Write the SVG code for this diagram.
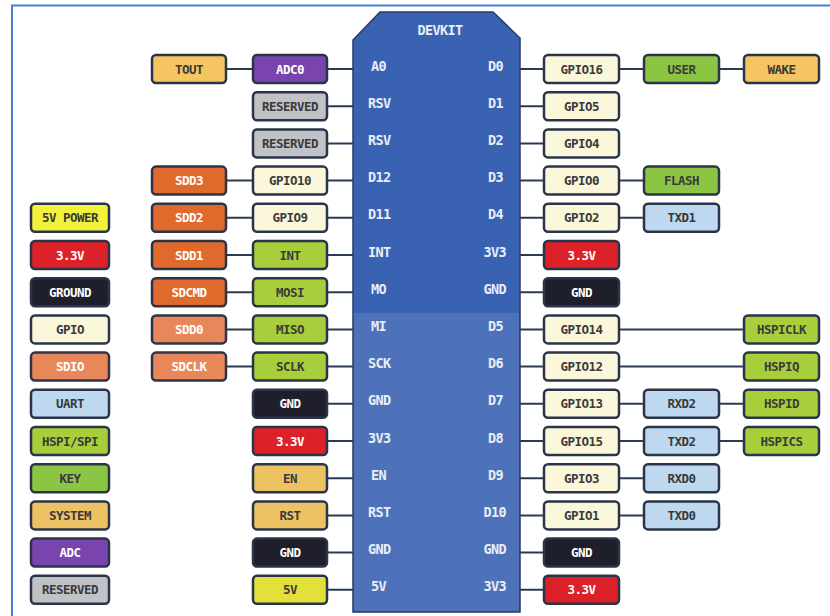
<svg xmlns="http://www.w3.org/2000/svg" width="830" height="616" viewBox="0 0 830 616">
<style>
.bx{stroke:#2B3448;stroke-width:2.5}
.t{font-family:"DejaVu Sans Mono","Liberation Mono",monospace;font-weight:bold;font-size:12.5px;text-anchor:middle;letter-spacing:-0.5px;fill:#3a3a3a}
.w{fill:#ffffff}
.pl{font-family:"DejaVu Sans Mono","Liberation Mono",monospace;font-weight:bold;font-size:13.5px;fill:#E8EEF8;letter-spacing:-0.6px}
.r{text-anchor:end}
.c{stroke:#2B3A55;stroke-width:2;fill:none}
.tout{fill:#F4C561}.adc{fill:#7A44AE}.res{fill:#C0C2C6}.sd{fill:#E0692C}.sdl{fill:#E8885A}
.gp{fill:#FAF7DA}.hs{fill:#A8CF3B}.key{fill:#8CC443}.ua{fill:#BDD8EF}.v33{fill:#DC2128}
.gnd{fill:#1F1F2B}.v5p{fill:#F2F23C}.v5{fill:#E4E03A}.sys{fill:#ECC263}
</style>
<rect width="830" height="616" fill="#ffffff"/>
<path d="M12 616 V5.5 H830" fill="none" stroke="#4A7FD8" stroke-width="2"/>

<g id="connectors">
<path class="c" d="M226 69H253M327 69H353M327 106.2H353M327 143.4H353M226 180.6H253M327 180.6H353M226 217.8H253M327 217.8H353M226 255H253M327 255H353M226 292.2H253M327 292.2H353M226 329.4H253M327 329.4H353M226 366.6H253M327 366.6H353M327 403.8H353M327 441H353M327 478.2H353M327 515.4H353M327 552.6H353M327 589.8H353"/>
<path class="c" d="M520 69H544M619 69H644M719 69H744M520 106.2H544M520 143.4H544M520 180.6H544M619 180.6H644M520 217.8H544M619 217.8H644M520 255H544M520 292.2H544M520 329.4H544M619 329.4H744M520 366.6H544M619 366.6H744M520 403.8H544M619 403.8H644M719 403.8H744M520 441H544M619 441H644M719 441H744M520 478.2H544M619 478.2H644M520 515.4H544M619 515.4H644M520 552.6H544M520 589.8H544"/>
</g>

<g id="board">
<polygon points="353,40 380,12 493,12 520,38 520,612 353,612" fill="#3A62B3" stroke="#2B3A66" stroke-width="1.5"/>
<rect x="354" y="313" width="165" height="298" fill="#ffffff" opacity="0.1"/>
<text class="pl" x="440" y="35" text-anchor="middle">DEVKIT</text>
<text class="pl" x="371" y="70.5">A0</text>
<text class="pl" x="368" y="107.7">RSV</text>
<text class="pl" x="368" y="144.9">RSV</text>
<text class="pl" x="368" y="182.1">D12</text>
<text class="pl" x="368" y="219.3">D11</text>
<text class="pl" x="368" y="256.5">INT</text>
<text class="pl" x="371" y="293.7">MO</text>
<text class="pl" x="371" y="330.9">MI</text>
<text class="pl" x="368" y="368.1">SCK</text>
<text class="pl" x="368" y="405.3">GND</text>
<text class="pl" x="368" y="442.5">3V3</text>
<text class="pl" x="371" y="479.7">EN</text>
<text class="pl" x="368" y="516.9">RST</text>
<text class="pl" x="368" y="554.1">GND</text>
<text class="pl" x="371" y="591.3">5V</text>
<text class="pl r" x="503" y="70.5">D0</text>
<text class="pl r" x="503" y="107.7">D1</text>
<text class="pl r" x="503" y="144.9">D2</text>
<text class="pl r" x="503" y="182.1">D3</text>
<text class="pl r" x="503" y="219.3">D4</text>
<text class="pl r" x="506" y="256.5">3V3</text>
<text class="pl r" x="506" y="293.7">GND</text>
<text class="pl r" x="503" y="330.9">D5</text>
<text class="pl r" x="503" y="368.1">D6</text>
<text class="pl r" x="503" y="405.3">D7</text>
<text class="pl r" x="503" y="442.5">D8</text>
<text class="pl r" x="503" y="479.7">D9</text>
<text class="pl r" x="506" y="516.9">D10</text>
<text class="pl r" x="506" y="554.1">GND</text>
<text class="pl r" x="506" y="591.3">3V3</text>
</g>

<!-- legend -->
<g id="leg-5vpower"><rect class="bx v5p" x="31" y="203.8" width="78" height="28" rx="4"/><text class="t" x="70" y="222.3">5V POWER</text></g>
<g id="leg-33v"><rect class="bx v33" x="31" y="241" width="78" height="28" rx="4"/><text class="t w" x="70" y="259.5">3.3V</text></g>
<g id="leg-ground"><rect class="bx gnd" x="31" y="278.2" width="78" height="28" rx="4"/><text class="t w" x="70" y="296.7">GROUND</text></g>
<g id="leg-gpio"><rect class="bx gp" x="31" y="315.4" width="78" height="28" rx="4"/><text class="t" x="70" y="333.9">GPIO</text></g>
<g id="leg-sdio"><rect class="bx sdl" x="31" y="352.6" width="78" height="28" rx="4"/><text class="t w" x="70" y="371.1">SDIO</text></g>
<g id="leg-uart"><rect class="bx ua" x="31" y="389.8" width="78" height="28" rx="4"/><text class="t" x="70" y="408.3">UART</text></g>
<g id="leg-hspi"><rect class="bx hs" x="31" y="427" width="78" height="28" rx="4"/><text class="t" x="70" y="445.5">HSPI/SPI</text></g>
<g id="leg-key"><rect class="bx key" x="31" y="464.2" width="78" height="28" rx="4"/><text class="t" x="70" y="482.7">KEY</text></g>
<g id="leg-system"><rect class="bx sys" x="31" y="501.4" width="78" height="28" rx="4"/><text class="t" x="70" y="519.9">SYSTEM</text></g>
<g id="leg-adc"><rect class="bx adc" x="31" y="538.6" width="78" height="28" rx="4"/><text class="t w" x="70" y="557.1">ADC</text></g>
<g id="leg-reserved"><rect class="bx res" x="31" y="575.8" width="78" height="28" rx="4"/><text class="t" x="70" y="594.3">RESERVED</text></g>

<!-- left column 1 -->
<g id="tout"><rect class="bx tout" x="152" y="55" width="74" height="28" rx="4"/><text class="t" x="189" y="73.5">TOUT</text></g>
<g id="sdd3"><rect class="bx sd" x="152" y="166.6" width="74" height="28" rx="4"/><text class="t w" x="189" y="185.1">SDD3</text></g>
<g id="sdd2"><rect class="bx sd" x="152" y="203.8" width="74" height="28" rx="4"/><text class="t w" x="189" y="222.3">SDD2</text></g>
<g id="sdd1"><rect class="bx sd" x="152" y="241" width="74" height="28" rx="4"/><text class="t w" x="189" y="259.5">SDD1</text></g>
<g id="sdcmd"><rect class="bx sd" x="152" y="278.2" width="74" height="28" rx="4"/><text class="t w" x="189" y="296.7">SDCMD</text></g>
<g id="sdd0"><rect class="bx sdl" x="152" y="315.4" width="74" height="28" rx="4"/><text class="t w" x="189" y="333.9">SDD0</text></g>
<g id="sdclk"><rect class="bx sdl" x="152" y="352.6" width="74" height="28" rx="4"/><text class="t w" x="189" y="371.1">SDCLK</text></g>

<!-- left column 2 -->
<g id="adc0"><rect class="bx adc" x="253" y="55" width="74" height="28" rx="4"/><text class="t w" x="290" y="73.5">ADC0</text></g>
<g id="reserved1"><rect class="bx res" x="253" y="92.2" width="74" height="28" rx="4"/><text class="t" x="290" y="110.7">RESERVED</text></g>
<g id="reserved2"><rect class="bx res" x="253" y="129.4" width="74" height="28" rx="4"/><text class="t" x="290" y="147.9">RESERVED</text></g>
<g id="gpio10"><rect class="bx gp" x="253" y="166.6" width="74" height="28" rx="4"/><text class="t" x="290" y="185.1">GPIO10</text></g>
<g id="gpio9"><rect class="bx gp" x="253" y="203.8" width="74" height="28" rx="4"/><text class="t" x="290" y="222.3">GPIO9</text></g>
<g id="int"><rect class="bx hs" x="253" y="241" width="74" height="28" rx="4"/><text class="t" x="290" y="259.5">INT</text></g>
<g id="mosi"><rect class="bx hs" x="253" y="278.2" width="74" height="28" rx="4"/><text class="t" x="290" y="296.7">MOSI</text></g>
<g id="miso"><rect class="bx hs" x="253" y="315.4" width="74" height="28" rx="4"/><text class="t" x="290" y="333.9">MISO</text></g>
<g id="sclk"><rect class="bx hs" x="253" y="352.6" width="74" height="28" rx="4"/><text class="t" x="290" y="371.1">SCLK</text></g>
<g id="gnd-l1"><rect class="bx gnd" x="253" y="389.8" width="74" height="28" rx="4"/><text class="t w" x="290" y="408.3">GND</text></g>
<g id="v33-l"><rect class="bx v33" x="253" y="427" width="74" height="28" rx="4"/><text class="t w" x="290" y="445.5">3.3V</text></g>
<g id="en"><rect class="bx sys" x="253" y="464.2" width="74" height="28" rx="4"/><text class="t" x="290" y="482.7">EN</text></g>
<g id="rst"><rect class="bx sys" x="253" y="501.4" width="74" height="28" rx="4"/><text class="t" x="290" y="519.9">RST</text></g>
<g id="gnd-l2"><rect class="bx gnd" x="253" y="538.6" width="74" height="28" rx="4"/><text class="t w" x="290" y="557.1">GND</text></g>
<g id="v5"><rect class="bx v5" x="253" y="575.8" width="74" height="28" rx="4"/><text class="t" x="290" y="594.3">5V</text></g>

<!-- right column 1 -->
<g id="gpio16"><rect class="bx gp" x="544" y="55" width="75" height="28" rx="4"/><text class="t" x="581.5" y="73.5">GPIO16</text></g>
<g id="gpio5"><rect class="bx gp" x="544" y="92.2" width="75" height="28" rx="4"/><text class="t" x="581.5" y="110.7">GPIO5</text></g>
<g id="gpio4"><rect class="bx gp" x="544" y="129.4" width="75" height="28" rx="4"/><text class="t" x="581.5" y="147.9">GPIO4</text></g>
<g id="gpio0"><rect class="bx gp" x="544" y="166.6" width="75" height="28" rx="4"/><text class="t" x="581.5" y="185.1">GPIO0</text></g>
<g id="gpio2"><rect class="bx gp" x="544" y="203.8" width="75" height="28" rx="4"/><text class="t" x="581.5" y="222.3">GPIO2</text></g>
<g id="v33-r1"><rect class="bx v33" x="544" y="241" width="75" height="28" rx="4"/><text class="t w" x="581.5" y="259.5">3.3V</text></g>
<g id="gnd-r1"><rect class="bx gnd" x="544" y="278.2" width="75" height="28" rx="4"/><text class="t w" x="581.5" y="296.7">GND</text></g>
<g id="gpio14"><rect class="bx gp" x="544" y="315.4" width="75" height="28" rx="4"/><text class="t" x="581.5" y="333.9">GPIO14</text></g>
<g id="gpio12"><rect class="bx gp" x="544" y="352.6" width="75" height="28" rx="4"/><text class="t" x="581.5" y="371.1">GPIO12</text></g>
<g id="gpio13"><rect class="bx gp" x="544" y="389.8" width="75" height="28" rx="4"/><text class="t" x="581.5" y="408.3">GPIO13</text></g>
<g id="gpio15"><rect class="bx gp" x="544" y="427" width="75" height="28" rx="4"/><text class="t" x="581.5" y="445.5">GPIO15</text></g>
<g id="gpio3"><rect class="bx gp" x="544" y="464.2" width="75" height="28" rx="4"/><text class="t" x="581.5" y="482.7">GPIO3</text></g>
<g id="gpio1"><rect class="bx gp" x="544" y="501.4" width="75" height="28" rx="4"/><text class="t" x="581.5" y="519.9">GPIO1</text></g>
<g id="gnd-r2"><rect class="bx gnd" x="544" y="538.6" width="75" height="28" rx="4"/><text class="t w" x="581.5" y="557.1">GND</text></g>
<g id="v33-r2"><rect class="bx v33" x="544" y="575.8" width="75" height="28" rx="4"/><text class="t w" x="581.5" y="594.3">3.3V</text></g>

<!-- right column 2 -->
<g id="user"><rect class="bx key" x="644" y="55" width="75" height="28" rx="4"/><text class="t" x="681.5" y="73.5">USER</text></g>
<g id="flash"><rect class="bx key" x="644" y="166.6" width="75" height="28" rx="4"/><text class="t" x="681.5" y="185.1">FLASH</text></g>
<g id="txd1"><rect class="bx ua" x="644" y="203.8" width="75" height="28" rx="4"/><text class="t" x="681.5" y="222.3">TXD1</text></g>
<g id="rxd2"><rect class="bx ua" x="644" y="389.8" width="75" height="28" rx="4"/><text class="t" x="681.5" y="408.3">RXD2</text></g>
<g id="txd2"><rect class="bx ua" x="644" y="427" width="75" height="28" rx="4"/><text class="t" x="681.5" y="445.5">TXD2</text></g>
<g id="rxd0"><rect class="bx ua" x="644" y="464.2" width="75" height="28" rx="4"/><text class="t" x="681.5" y="482.7">RXD0</text></g>
<g id="txd0"><rect class="bx ua" x="644" y="501.4" width="75" height="28" rx="4"/><text class="t" x="681.5" y="519.9">TXD0</text></g>

<!-- right column 3 -->
<g id="wake"><rect class="bx tout" x="744" y="55" width="75" height="28" rx="4"/><text class="t" x="781.5" y="73.5">WAKE</text></g>
<g id="hspiclk"><rect class="bx hs" x="744" y="315.4" width="75" height="28" rx="4"/><text class="t" x="781.5" y="333.9">HSPICLK</text></g>
<g id="hspiq"><rect class="bx hs" x="744" y="352.6" width="75" height="28" rx="4"/><text class="t" x="781.5" y="371.1">HSPIQ</text></g>
<g id="hspid"><rect class="bx hs" x="744" y="389.8" width="75" height="28" rx="4"/><text class="t" x="781.5" y="408.3">HSPID</text></g>
<g id="hspics"><rect class="bx hs" x="744" y="427" width="75" height="28" rx="4"/><text class="t" x="781.5" y="445.5">HSPICS</text></g>
</svg>
